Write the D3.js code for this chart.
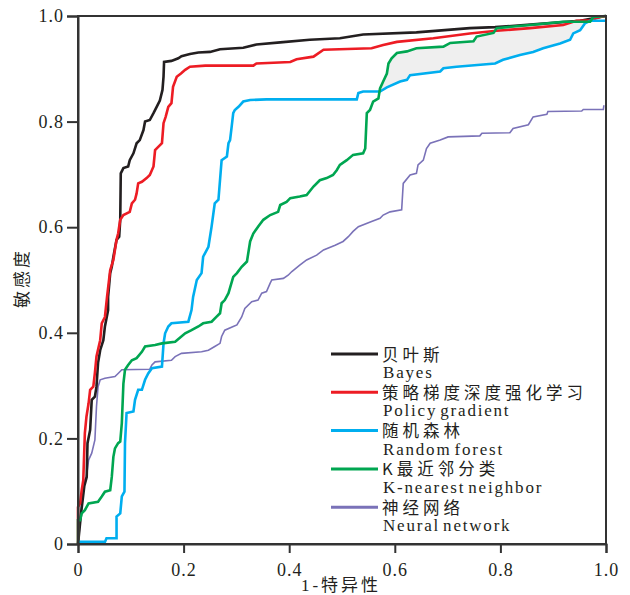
<!DOCTYPE html>
<html>
<head>
<meta charset="utf-8">
<script src="https://cdn.jsdelivr.net/npm/d3@7"></script>
<style>
  body { margin: 0; background: #fff; }
</style>
</head>
<body>
<script>
// ROC curves, [1-specificity, sensitivity]
const bayes = [[0,0],[0.006,0.06],[0.012,0.11],[0.0165,0.127],[0.018,0.191],[0.023,0.216],[0.026,0.273],[0.032,0.279],[0.035,0.298],[0.038,0.343],[0.042,0.367],[0.048,0.386],[0.051,0.412],[0.057,0.443],[0.057,0.468],[0.061,0.513],[0.064,0.525],[0.067,0.544],[0.073,0.576],[0.078,0.582],[0.080,0.614],[0.081,0.702],[0.086,0.712],[0.095,0.715],[0.098,0.727],[0.105,0.740],[0.111,0.759],[0.117,0.765],[0.124,0.784],[0.127,0.800],[0.136,0.803],[0.143,0.816],[0.149,0.828],[0.155,0.840],[0.160,0.860],[0.162,0.885],[0.163,0.913],[0.177,0.915],[0.190,0.920],[0.196,0.924],[0.212,0.928],[0.228,0.931],[0.250,0.932],[0.269,0.937],[0.313,0.940],[0.338,0.946],[0.383,0.950],[0.439,0.955],[0.496,0.958],[0.540,0.965],[0.641,0.969],[0.742,0.977],[0.790,0.979],[0.875,0.985],[0.951,0.991],[0.989,0.998],[1,1]];

const policyGradient = [[0,0],[0,0.07],[0.004,0.077],[0.007,0.102],[0.010,0.121],[0.013,0.210],[0.016,0.241],[0.020,0.266],[0.023,0.292],[0.029,0.298],[0.032,0.324],[0.035,0.355],[0.042,0.386],[0.045,0.418],[0.051,0.430],[0.055,0.468],[0.061,0.519],[0.067,0.538],[0.073,0.576],[0.076,0.588],[0.080,0.614],[0.086,0.623],[0.098,0.629],[0.102,0.645],[0.108,0.652],[0.111,0.664],[0.114,0.683],[0.121,0.686],[0.130,0.693],[0.136,0.699],[0.143,0.715],[0.146,0.746],[0.152,0.752],[0.159,0.759],[0.162,0.797],[0.166,0.809],[0.171,0.828],[0.177,0.835],[0.180,0.866],[0.187,0.885],[0.195,0.891],[0.203,0.898],[0.212,0.904],[0.241,0.906],[0.332,0.906],[0.338,0.910],[0.402,0.913],[0.414,0.918],[0.446,0.923],[0.465,0.936],[0.556,0.939],[0.578,0.945],[0.604,0.951],[0.673,0.958],[0.742,0.967],[0.793,0.972],[0.856,0.977],[0.919,0.983],[0.944,0.991],[0.970,0.992],[0.989,0.998],[1,1]];

const randomForest = [[0,0],[0.002,0.004],[0.051,0.004],[0.054,0.011],[0.073,0.011],[0.073,0.052],[0.080,0.058],[0.083,0.090],[0.088,0.099],[0.089,0.191],[0.092,0.248],[0.105,0.251],[0.108,0.273],[0.114,0.292],[0.121,0.292],[0.127,0.311],[0.133,0.323],[0.140,0.333],[0.159,0.336],[0.162,0.380],[0.165,0.399],[0.171,0.412],[0.177,0.418],[0.209,0.421],[0.215,0.443],[0.218,0.468],[0.225,0.500],[0.234,0.513],[0.237,0.544],[0.247,0.563],[0.253,0.601],[0.259,0.645],[0.266,0.652],[0.272,0.727],[0.282,0.734],[0.285,0.759],[0.288,0.765],[0.291,0.790],[0.294,0.816],[0.297,0.822],[0.304,0.828],[0.313,0.838],[0.326,0.841],[0.357,0.842],[0.528,0.842],[0.531,0.854],[0.540,0.857],[0.572,0.857],[0.585,0.865],[0.610,0.876],[0.623,0.879],[0.629,0.888],[0.686,0.895],[0.692,0.901],[0.717,0.904],[0.790,0.910],[0.805,0.917],[0.837,0.926],[0.862,0.932],[0.881,0.939],[0.913,0.948],[0.932,0.955],[0.938,0.967],[0.951,0.973],[0.960,0.986],[0.970,0.991],[1,0.991]];

const knn = [[0,0],[0,0.045],[0.004,0.045],[0.007,0.058],[0.013,0.064],[0.020,0.077],[0.038,0.080],[0.045,0.090],[0.051,0.099],[0.061,0.102],[0.064,0.127],[0.067,0.165],[0.070,0.181],[0.076,0.191],[0.080,0.194],[0.083,0.229],[0.086,0.304],[0.089,0.330],[0.095,0.339],[0.102,0.348],[0.111,0.352],[0.121,0.364],[0.127,0.374],[0.146,0.377],[0.159,0.380],[0.184,0.383],[0.203,0.399],[0.215,0.405],[0.228,0.412],[0.237,0.418],[0.253,0.421],[0.263,0.431],[0.269,0.437],[0.272,0.456],[0.278,0.462],[0.285,0.475],[0.294,0.506],[0.301,0.513],[0.310,0.525],[0.320,0.535],[0.326,0.573],[0.332,0.588],[0.341,0.601],[0.351,0.614],[0.364,0.623],[0.379,0.629],[0.383,0.642],[0.395,0.648],[0.402,0.655],[0.420,0.658],[0.433,0.661],[0.446,0.677],[0.458,0.689],[0.471,0.693],[0.483,0.699],[0.490,0.708],[0.496,0.718],[0.509,0.727],[0.521,0.737],[0.540,0.740],[0.544,0.749],[0.547,0.816],[0.553,0.822],[0.559,0.838],[0.569,0.844],[0.572,0.863],[0.578,0.876],[0.585,0.891],[0.588,0.910],[0.594,0.920],[0.604,0.930],[0.623,0.933],[0.641,0.939],[0.692,0.942],[0.705,0.949],[0.749,0.952],[0.755,0.961],[0.787,0.968],[0.793,0.977],[0.856,0.983],[0.919,0.989],[0.970,0.989],[0.976,0.998],[1,1]];

const neuralNet = [[0,0],[0.001,0.004],[0.004,0.045],[0.007,0.077],[0.010,0.115],[0.016,0.127],[0.020,0.159],[0.026,0.172],[0.032,0.197],[0.035,0.260],[0.038,0.298],[0.042,0.311],[0.051,0.314],[0.070,0.317],[0.076,0.323],[0.083,0.330],[0.136,0.331],[0.140,0.339],[0.146,0.345],[0.177,0.348],[0.184,0.355],[0.196,0.361],[0.234,0.364],[0.247,0.367],[0.259,0.374],[0.269,0.380],[0.272,0.393],[0.278,0.405],[0.294,0.412],[0.301,0.415],[0.310,0.430],[0.316,0.446],[0.329,0.459],[0.341,0.462],[0.348,0.475],[0.357,0.478],[0.364,0.494],[0.367,0.500],[0.389,0.503],[0.398,0.509],[0.405,0.516],[0.420,0.528],[0.433,0.538],[0.452,0.547],[0.465,0.557],[0.487,0.566],[0.502,0.573],[0.512,0.582],[0.521,0.592],[0.531,0.601],[0.556,0.611],[0.572,0.617],[0.578,0.623],[0.591,0.629],[0.613,0.633],[0.616,0.683],[0.629,0.699],[0.641,0.702],[0.644,0.718],[0.654,0.727],[0.660,0.749],[0.667,0.759],[0.686,0.765],[0.701,0.771],[0.761,0.773],[0.765,0.778],[0.818,0.779],[0.824,0.787],[0.853,0.794],[0.862,0.809],[0.888,0.814],[0.890,0.819],[0.954,0.820],[0.957,0.823],[0.995,0.823],[0.996,0.831]];

const legendZh = ["贝叶斯", "策略梯度深度强化学习", "随机森林", "K最近邻分类", "神经网络"];
const legendEn = ["Bayes", "Policy gradient", "Random forest", "K-nearest neighbor", "Neural network"];
const colors = ["#231f20", "#ed1c24", "#00aeef", "#00a651", "#7a72b8"];
const ticks = [0, 0.2, 0.4, 0.6, 0.8, 1.0];
const shadeRange = [0.572, 0.976];

const w = 630;
const h = 595;
const margin = { top: 16, right: 24, bottom: 51, left: 78 };
const innerWidth = w - margin.left - margin.right;
const innerHeight = h - margin.top - margin.bottom;
const serif = "Liberation Serif, DejaVu Serif, serif";

const svg = d3.select("body")
    .append("svg")
    .attr("width", w)
    .attr("height", h);

const xScale = d3.scaleLinear().domain([0, 1]).range([0, innerWidth]);
const yScale = d3.scaleLinear().domain([0, 1]).range([innerHeight, 0]);

const g = svg.append("g")
    .attr("transform", `translate(${margin.left},${margin.top})`);

const fmt = d => d === 0 ? "0" : d.toFixed(1);

const line = d3.line()
    .x(d => xScale(d[0]))
    .y(d => yScale(d[1]));

// shaded gap between knn and random forest
let upper = knn.filter(d => d[0] >= shadeRange[0] && d[0] <= shadeRange[1]);
let lower = randomForest.filter(d => d[0] >= shadeRange[0] && d[0] <= shadeRange[1]).reverse();
g.append("path")
    .attr("d", line(upper.concat(lower)) + "Z")
    .attr("fill", "#efefef")
    .attr("stroke", "none");

const series = [
    { data: neuralNet, color: colors[4], width: 1.6 },
    { data: bayes, color: colors[0], width: 2.6 },
    { data: policyGradient, color: colors[1], width: 2.6 },
    { data: randomForest, color: colors[2], width: 2.6 },
    { data: knn, color: colors[3], width: 2.6 }
];

g.selectAll(".roc")
    .data(series)
    .enter()
    .append("path")
    .attr("class", "roc")
    .attr("d", d => line(d.data))
    .attr("fill", "none")
    .attr("stroke", d => d.color)
    .attr("stroke-width", d => d.width)
    .attr("stroke-linejoin", "miter");

// frame
g.append("rect")
    .attr("x", 0)
    .attr("y", 0)
    .attr("width", innerWidth)
    .attr("height", innerHeight)
    .attr("fill", "none")
    .attr("stroke", "#333")
    .attr("stroke-width", 2);

const xAxisG = g.append("g")
    .attr("transform", `translate(0,${innerHeight})`)
    .call(d3.axisBottom(xScale).tickValues(ticks).tickFormat(fmt).tickSize(9).tickPadding(8));

const yAxisG = g.append("g")
    .call(d3.axisLeft(yScale).tickValues(ticks).tickFormat(fmt).tickSize(11).tickPadding(3));

[xAxisG, yAxisG].forEach(a => {
    a.attr("font-family", serif).attr("font-size", 18);
    a.select(".domain").attr("stroke", "#333").attr("stroke-width", 2);
    a.selectAll(".tick line").attr("stroke", "#333").attr("stroke-width", 2);
    a.selectAll(".tick text")
        .attr("font-family", serif)
        .attr("letter-spacing", 1)
        .attr("fill", "#231f20");
});
xAxisG.selectAll(".tick text").attr("dy", "0.85em");

svg.append("text")
    .attr("x", 341)
    .attr("y", 591)
    .attr("text-anchor", "middle")
    .attr("font-family", "Liberation Serif, Noto Sans CJK SC, serif")
    .attr("font-size", 17)
    .attr("letter-spacing", 3)
    .attr("fill", "#231f20")
    .text("1-特异性");

svg.append("text")
    .attr("transform", "translate(28,278) rotate(-90)")
    .attr("text-anchor", "middle")
    .attr("font-family", "Noto Sans CJK SC, sans-serif")
    .attr("font-size", 17)
    .attr("letter-spacing", 3)
    .attr("fill", "#231f20")
    .text("敏感度");

// legend
const legend = svg.append("g")
    .attr("transform", "translate(331,354)");

const items = legend.selectAll("g")
    .data(legendZh)
    .enter()
    .append("g")
    .attr("transform", (d, i) => `translate(0,${i * 38.3})`);

items.append("line")
    .attr("x1", 0)
    .attr("x2", 47)
    .attr("stroke", (d, i) => colors[i])
    .attr("stroke-width", 3);

items.append("text")
    .attr("x", 51)
    .attr("y", 6.5)
    .attr("font-family", "Noto Sans CJK SC, sans-serif")
    .attr("font-size", 16.5)
    .attr("letter-spacing", 4)
    .attr("fill", "#231f20")
    .text(d => d);

items.append("text")
    .attr("x", 52)
    .attr("y", 24)
    .attr("font-family", serif)
    .attr("font-size", 17)
    .attr("letter-spacing", 1.8)
    .attr("word-spacing", -3)
    .attr("fill", "#231f20")
    .text((d, i) => legendEn[i]);
</script>
</body>
</html>
